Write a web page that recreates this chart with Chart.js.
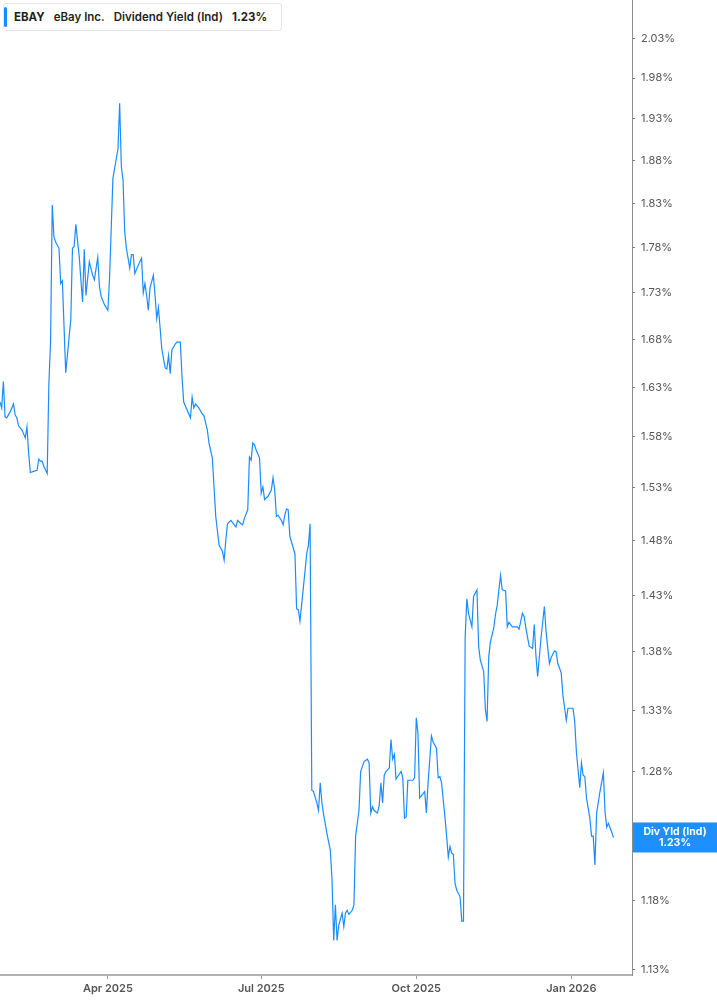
<!DOCTYPE html>
<html>
<head>
<meta charset="utf-8">
<title>EBAY Dividend Yield</title>
<script src="https://cdn.jsdelivr.net/npm/chart.js@4.4.1/dist/chart.umd.min.js"></script>
<style>
  html, body { margin: 0; padding: 0; background: #fff; }
  #wrap { position: relative; width: 717px; height: 1005px; }
  #legend {
    position: absolute; left: 3px; top: 3px; height: 28px;
    display: flex; align-items: center; box-sizing: border-box;
    padding: 0 5px 0 10px; background: #fff;
    border: 1px solid #e6e6e6; border-radius: 3px;
    font-family: Inter, "Noto Sans", sans-serif; font-size: 11.5px; font-weight: 600; color: #1f1f1f;
  }
  #legend::before {
    content: ""; position: absolute; left: 0; top: 3px; bottom: 3px; width: 3px;
    background: #1a8cff; border-radius: 2px;
  }
  #legend span { margin-right: 9px; }
  #legend .tk { font-weight: 700; }
</style>
</head>
<body>
<div id="wrap">
  <canvas id="chart"></canvas>
  <div id="legend"><span class="tk" id="lgTicker"></span><span id="lgName"></span><span id="lgMetric"></span><span class="tk" id="lgValue"></span></div>
</div>
<script>
const ticker = "EBAY";
const companyName = "eBay Inc.";
const metricName = "Dividend Yield (Ind)";
const badgeLabel = "Div Yld (Ind)";

// ── Data ──

const dates = [
  "2025-01-27", "2025-01-28", "2025-01-29", "2025-01-30", "2025-01-31",
  "2025-02-02", "2025-02-04", "2025-02-05", "2025-02-06", "2025-02-07", "2025-02-09", "2025-02-11", "2025-02-12",
  "2025-02-13", "2025-02-14", "2025-02-16", "2025-02-18", "2025-02-19", "2025-02-20", "2025-02-21", "2025-02-22",
  "2025-02-24", "2025-02-25", "2025-02-26", "2025-02-27", "2025-02-28",
  "2025-03-01", "2025-03-03", "2025-03-04", "2025-03-05", "2025-03-07", "2025-03-10", "2025-03-11", "2025-03-12",
  "2025-03-13", "2025-03-15", "2025-03-16", "2025-03-17", "2025-03-18", "2025-03-19", "2025-03-21", "2025-03-23",
  "2025-03-24", "2025-03-26", "2025-03-27", "2025-03-28", "2025-03-30",
  "2025-04-01", "2025-04-02", "2025-04-04", "2025-04-07", "2025-04-08", "2025-04-09", "2025-04-10", "2025-04-11",
  "2025-04-12", "2025-04-14", "2025-04-15", "2025-04-16", "2025-04-17", "2025-04-19", "2025-04-21", "2025-04-22",
  "2025-04-23", "2025-04-24", "2025-04-25", "2025-04-26", "2025-04-28", "2025-04-29", "2025-04-30",
  "2025-05-01", "2025-05-02", "2025-05-03", "2025-05-05", "2025-05-06", "2025-05-07", "2025-05-08", "2025-05-09",
  "2025-05-11", "2025-05-12", "2025-05-14", "2025-05-15", "2025-05-16", "2025-05-18", "2025-05-20", "2025-05-21",
  "2025-05-22", "2025-05-23", "2025-05-25", "2025-05-27", "2025-05-28", "2025-05-30", "2025-05-31",
  "2025-06-02", "2025-06-03", "2025-06-04", "2025-06-06", "2025-06-08", "2025-06-09", "2025-06-10", "2025-06-11",
  "2025-06-13", "2025-06-14", "2025-06-16", "2025-06-17", "2025-06-19", "2025-06-20", "2025-06-21", "2025-06-23",
  "2025-06-24", "2025-06-25", "2025-06-26", "2025-06-27", "2025-06-28", "2025-06-30",
  "2025-07-01", "2025-07-02", "2025-07-03", "2025-07-05", "2025-07-07", "2025-07-08", "2025-07-09", "2025-07-10",
  "2025-07-11", "2025-07-13", "2025-07-14", "2025-07-15", "2025-07-16", "2025-07-17", "2025-07-18", "2025-07-21",
  "2025-07-22", "2025-07-23", "2025-07-24", "2025-07-26", "2025-07-28", "2025-07-29", "2025-07-30", "2025-07-31",
  "2025-08-01", "2025-08-03", "2025-08-04", "2025-08-05", "2025-08-06", "2025-08-07", "2025-08-09", "2025-08-11",
  "2025-08-12", "2025-08-13", "2025-08-14", "2025-08-15", "2025-08-16", "2025-08-18", "2025-08-19", "2025-08-20",
  "2025-08-21", "2025-08-22", "2025-08-24", "2025-08-25", "2025-08-26", "2025-08-28", "2025-08-29", "2025-08-31",
  "2025-09-02", "2025-09-03", "2025-09-04", "2025-09-05", "2025-09-06", "2025-09-08", "2025-09-09", "2025-09-10",
  "2025-09-11", "2025-09-12", "2025-09-13", "2025-09-15", "2025-09-16", "2025-09-17", "2025-09-18", "2025-09-19",
  "2025-09-20", "2025-09-22", "2025-09-23", "2025-09-24", "2025-09-25", "2025-09-26", "2025-09-29", "2025-09-30",
  "2025-10-01", "2025-10-02", "2025-10-03", "2025-10-06", "2025-10-07", "2025-10-08", "2025-10-10", "2025-10-11",
  "2025-10-13", "2025-10-14", "2025-10-15", "2025-10-16", "2025-10-18", "2025-10-19", "2025-10-20", "2025-10-21",
  "2025-10-22", "2025-10-23", "2025-10-24", "2025-10-25", "2025-10-27", "2025-10-28", "2025-10-29", "2025-10-30",
  "2025-10-31",
  "2025-11-01", "2025-11-03", "2025-11-04", "2025-11-06", "2025-11-07", "2025-11-08", "2025-11-10", "2025-11-11",
  "2025-11-12", "2025-11-13", "2025-11-14", "2025-11-16", "2025-11-17", "2025-11-18", "2025-11-20", "2025-11-21",
  "2025-11-23", "2025-11-24", "2025-11-25", "2025-11-27", "2025-11-30",
  "2025-12-01", "2025-12-03", "2025-12-04", "2025-12-05", "2025-12-07", "2025-12-09", "2025-12-10", "2025-12-11",
  "2025-12-12", "2025-12-14", "2025-12-16", "2025-12-17", "2025-12-19", "2025-12-20", "2025-12-22", "2025-12-23",
  "2025-12-24", "2025-12-26", "2025-12-27", "2025-12-29", "2025-12-30",
  "2026-01-02", "2026-01-03", "2026-01-04", "2026-01-06", "2026-01-07", "2026-01-08", "2026-01-09", "2026-01-10",
  "2026-01-12", "2026-01-13", "2026-01-14", "2026-01-15", "2026-01-16", "2026-01-18", "2026-01-20", "2026-01-21",
  "2026-01-22", "2026-01-23", "2026-01-25", "2026-01-26",
];

const yieldPct = [
  1.615, 1.609, 1.636, 1.600, 1.599,
  1.605, 1.613, 1.602, 1.599, 1.591, 1.587, 1.579, 1.590,
  1.564, 1.545, 1.546, 1.547, 1.558, 1.556, 1.556, 1.551,
  1.544, 1.634, 1.677, 1.828, 1.792,
  1.786, 1.779, 1.740, 1.743, 1.645, 1.701, 1.779, 1.781,
  1.806, 1.770, 1.744, 1.720, 1.778, 1.727, 1.764, 1.749,
  1.744, 1.769, 1.737, 1.726, 1.717,
  1.711, 1.746, 1.859, 1.894, 1.949, 1.873, 1.857, 1.798,
  1.779, 1.757, 1.772, 1.772, 1.751, 1.760, 1.768, 1.730,
  1.740, 1.727, 1.711, 1.735, 1.749, 1.727, 1.702,
  1.714, 1.692, 1.670, 1.650, 1.649, 1.663, 1.644, 1.669,
  1.675, 1.677, 1.677, 1.641, 1.615, 1.607, 1.599, 1.620,
  1.609, 1.613, 1.609, 1.603, 1.601, 1.587, 1.574,
  1.559, 1.531, 1.503, 1.476, 1.470, 1.462, 1.481, 1.496,
  1.499, 1.497, 1.493, 1.499, 1.496, 1.495, 1.501, 1.509,
  1.560, 1.557, 1.574, 1.572, 1.567, 1.559,
  1.525, 1.531, 1.519, 1.522, 1.528, 1.540, 1.528, 1.503,
  1.504, 1.499, 1.495, 1.504, 1.510, 1.509, 1.484, 1.468,
  1.418, 1.417, 1.407, 1.437, 1.468, 1.476, 1.496, 1.265,
  1.264, 1.255, 1.249, 1.271, 1.255, 1.246, 1.231, 1.218,
  1.196, 1.151, 1.177, 1.151, 1.162, 1.171, 1.161, 1.171,
  1.173, 1.170, 1.173, 1.177, 1.229, 1.249, 1.280, 1.288,
  1.290, 1.287, 1.247, 1.252, 1.249, 1.247, 1.253, 1.271,
  1.255, 1.277, 1.280, 1.283, 1.306, 1.290, 1.294, 1.274,
  1.276, 1.280, 1.275, 1.243, 1.244, 1.273, 1.273, 1.275,
  1.324, 1.311, 1.259, 1.264, 1.247, 1.271, 1.309, 1.304,
  1.299, 1.275, 1.276, 1.271, 1.244, 1.229, 1.213, 1.221,
  1.216, 1.215, 1.193, 1.188, 1.183, 1.165, 1.165, 1.393,
  1.427,
  1.414, 1.402, 1.429, 1.435, 1.385, 1.373, 1.363, 1.331,
  1.321, 1.376, 1.389, 1.401, 1.413, 1.421, 1.448, 1.435,
  1.434, 1.402, 1.406, 1.402, 1.402,
  1.400, 1.414, 1.411, 1.401, 1.385, 1.383, 1.404, 1.377,
  1.359, 1.392, 1.420, 1.398, 1.370, 1.375, 1.381, 1.380,
  1.370, 1.362, 1.343, 1.322, 1.332,
  1.332, 1.321, 1.296, 1.267, 1.287, 1.277, 1.276, 1.259,
  1.243, 1.229, 1.229, 1.207, 1.247, 1.264, 1.279, 1.248,
  1.236, 1.239, 1.232, 1.228,
];

const xTickDates = ["2025-04-01", "2025-07-01", "2025-10-01", "2026-01-01"];
const xTickLabels = ["Apr 2025", "Jul 2025", "Oct 2025", "Jan 2026"];
const xRange = ["2025-01-27", "2026-02-06"];

const yTicks = [1.13, 1.18, 1.23, 1.28, 1.33, 1.38, 1.43, 1.48, 1.53, 1.58, 1.63, 1.68, 1.73, 1.78, 1.83, 1.88, 1.93, 1.98, 2.03];
const yMin = 1.1262;
const yMax = 2.0798;

// ── Helpers ──

const DAY = 86400000;
const epoch = Date.parse("2025-01-01");
const dayNum = (s) => Math.round((Date.parse(s) - epoch) / DAY);

const points = dates.map((d, i) => ({ x: dayNum(d), y: yieldPct[i] }));
const xTickDays = xTickDates.map(dayNum);
const lastValue = yieldPct[yieldPct.length - 1];

const lineColor = "#1a8cff";
const fontFamily = "Inter, 'Noto Sans', sans-serif";

document.getElementById("lgTicker").textContent = ticker;
document.getElementById("lgName").textContent = companyName;
document.getElementById("lgMetric").textContent = metricName;
document.getElementById("lgValue").textContent = `${lastValue.toFixed(2)}%`;

// value badge on the right axis
const badgePlugin = {
  id: "badge",
  afterDraw(chart) {
    const { ctx, chartArea, scales } = chart;
    const y = scales.y.getPixelForValue(lastValue);
    const left = chartArea.right + 1;
    const w = chart.width - left;
    ctx.save();
    ctx.fillStyle = "#1e8fff";
    ctx.fillRect(left, y - 15, w, 30);
    ctx.fillStyle = "#fff";
    ctx.font = `700 10.5px ${fontFamily}`;
    ctx.textAlign = "center";
    ctx.textBaseline = "middle";
    ctx.fillText(badgeLabel, left + w / 2, y - 5.5);
    ctx.fillText(`${lastValue.toFixed(2)}%`, left + w / 2, y + 5.5);
    ctx.restore();
  },
};

function noPad(scale) {
  scale.paddingTop = 0;
  scale.paddingBottom = 0;
  scale.paddingLeft = 0;
  scale.paddingRight = 0;
}

new Chart(document.getElementById("chart"), {
  type: "line",
  data: {
    datasets: [
      {
        label: metricName,
        data: points,
        borderColor: lineColor,
        backgroundColor: "transparent",
        borderWidth: 1.2,
        pointRadius: 0,
        tension: 0,
        fill: false,
      },
    ],
  },
  options: {
    responsive: true,
    maintainAspectRatio: false,
    animation: false,
    layout: { padding: 0 },
    plugins: {
      legend: { display: false },
      tooltip: { enabled: false },
    },
    scales: {
      x: {
        type: "linear",
        bounds: "data",
        min: dayNum(xRange[0]),
        max: dayNum(xRange[1]),
        afterBuildTicks: (scale) => {
          scale.ticks = xTickDays.map((v) => ({ value: v }));
        },
        afterFit: (scale) => {
          scale.height = 30;
          noPad(scale);
        },
        ticks: {
          autoSkip: false,
          maxRotation: 0,
          padding: 3,
          color: "#555",
          font: { family: fontFamily, size: 11, weight: "600" },
          callback: (v) => {
            const i = xTickDays.indexOf(v);
            return i >= 0 ? xTickLabels[i] : "";
          },
        },
        grid: { drawOnChartArea: false, drawTicks: true, tickLength: 4, color: "#999" },
        border: { display: true, color: "#b3b3b3", width: 2 },
      },
      y: {
        type: "logarithmic",
        position: "right",
        bounds: "data",
        min: yMin,
        max: yMax,
        afterBuildTicks: (scale) => {
          scale.ticks = yTicks.map((v) => ({ value: v }));
        },
        afterFit: (scale) => {
          scale.width = 85;
          noPad(scale);
        },
        ticks: {
          autoSkip: false,
          padding: 6,
          color: "#555",
          font: { family: fontFamily, size: 11 },
          callback: (v) => `${Number(v).toFixed(2)}%`,
        },
        grid: { drawOnChartArea: false, drawTicks: true, tickLength: 3, color: "#777" },
        border: { display: true, color: "#8c8c8c", width: 1 },
      },
    },
  },
  plugins: [badgePlugin],
});
</script>
</body>
</html>
